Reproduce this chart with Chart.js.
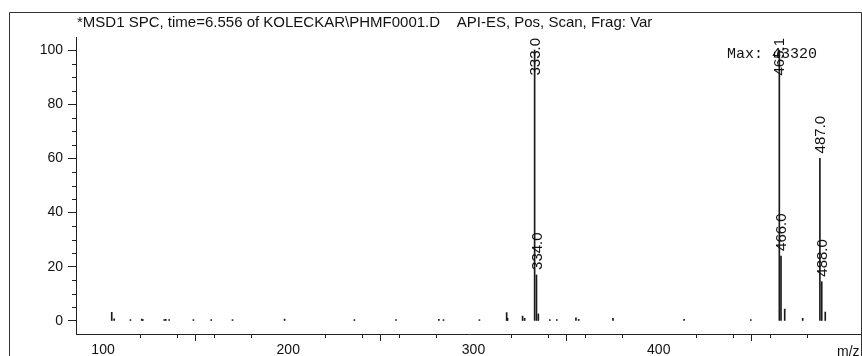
<!DOCTYPE html>
<html>
<head>
<meta charset="utf-8">
<script src="https://cdn.jsdelivr.net/npm/chart.js@4/dist/chart.umd.min.js"></script>
<style>
  html, body { margin: 0; padding: 0; background: #fff; }
  #wrap { width: 862px; height: 356px; }
</style>
</head>
<body>
<div id="wrap"><canvas id="graph"></canvas></div>
<script>
const TITLE = '*MSD1 SPC, time=6.556 of KOLECKAR\\PHMF0001.D    API-ES, Pos, Scan, Frag: Var'
const MAX_TEXT = 'Max: 43320'

// m/z values and relative abundance (%)
const mz = [104.7, 106.0, 114.8, 120.9, 121.5, 133.0, 133.9, 135.7, 148.8, 158.4, 169.9, 198.0,
  235.7, 258.2, 281.3, 283.8, 303.2, 317.9, 318.4, 326.5, 327.6, 333.0, 334.0, 335.0, 341.2, 345.0,
  355.3, 356.8, 375.3, 413.7, 449.7, 465.1, 466.0, 468.0, 477.7, 487.0, 488.0, 489.9]
const abundance = [3.2, 0.8, 0.5, 0.7, 0.5, 0.5, 0.6, 0.5, 0.5, 0.5, 0.5, 0.7,
  0.5, 0.5, 0.6, 0.5, 0.5, 3.1, 1.0, 1.8, 1.0, 100, 17, 2.6, 0.5, 0.5,
  1.2, 0.6, 1.0, 0.6, 0.5, 100, 24, 4.4, 1.0, 60, 14.5, 3.3]

// peaks that carry a m/z label
const labelledMz = [333.0, 334.0, 465.1, 466.0, 487.0, 488.0]

const yMajor = [0, 20, 40, 60, 80, 100]
const xMajor = [100, 200, 300, 400, 500]

const FONT = 'Liberation Sans, Arial, sans-serif'

const decorPlugin = {
  id: 'decor',
  beforeDraw(chart) {
    const c = chart.ctx
    c.save()
    c.strokeStyle = '#333'
    c.lineWidth = 1
    c.beginPath()
    c.moveTo(9.5, 356)
    c.lineTo(9.5, 12.5)
    c.lineTo(861.5, 12.5)
    c.lineTo(861.5, 356)
    c.stroke()
    c.restore()
  },
  afterDraw(chart) {
    const c = chart.ctx
    const xs = chart.scales.x
    const ys = chart.scales.y
    const area = chart.chartArea
    c.save()
    // minor ticks
    c.strokeStyle = '#222'
    c.lineWidth = 1
    c.beginPath()
    for (let v = 0; v <= 100; v += 5) {
      if (v % 20 === 0) continue
      const py = Math.round(ys.getPixelForValue(v)) + 0.5
      c.moveTo(area.left - 4, py)
      c.lineTo(area.left, py)
    }
    for (let v = 100; v <= 500; v += 20) {
      if (v % 100 === 0) continue
      const px = Math.round(xs.getPixelForValue(v)) + 0.5
      c.moveTo(px, area.bottom)
      c.lineTo(px, area.bottom + 4)
    }
    c.stroke()

    c.fillStyle = '#111'
    c.font = '15px ' + FONT
    c.textBaseline = 'alphabetic'
    c.textAlign = 'left'
    c.fillText(TITLE, 77, 27)
    c.font = '14px ' + FONT
    c.fillText('m/z', 837, 356)

    c.font = '15px "Liberation Mono", "Courier New", monospace'
    c.fillText(MAX_TEXT, 727, 58)

    // peak labels, rotated
    c.font = '15px ' + FONT
    labelledMz.forEach((m) => {
      const i = mz.indexOf(m)
      const px = xs.getPixelForValue(m)
      const top = ys.getPixelForValue(abundance[i])
      const text = m.toFixed(1)
      const w = c.measureText(text).width
      const bottom = Math.max(top - 5, area.top + w + 1)
      c.save()
      c.translate(px + 1, bottom)
      c.rotate(-Math.PI / 2)
      c.textAlign = 'left'
      c.textBaseline = 'middle'
      c.fillText(text, 0, 0)
      c.restore()
    })
    c.restore()
  },
}

const ctx = document.getElementById('graph').getContext('2d')

new Chart(ctx, {
  type: 'bar',
  data: {
    datasets: [
      {
        data: mz.map((m, i) => ({ x: m, y: abundance[i] })),
        backgroundColor: '#1a1a1a',
        borderWidth: 0,
        barThickness: 1,
      },
    ],
  },
  options: {
    responsive: true,
    maintainAspectRatio: false,
    animation: false,
    events: [],
    layout: { padding: { top: 37, right: 0, left: 0, bottom: 0 } },
    plugins: {
      legend: { display: false },
      tooltip: { enabled: false },
    },
    scales: {
      x: {
        type: 'linear',
        min: 85.41,
        max: 509.73,
        offset: false,
        afterBuildTicks: (s) => { s.ticks = xMajor.map((v) => ({ value: v })) },
        afterFit: (s) => { s.height = 22 },
        border: { color: '#222', width: 1 },
        grid: { drawOnChartArea: false, tickLength: 7, tickColor: '#222' },
        ticks: {
          color: '#111',
          font: { family: FONT, size: 14 },
          padding: 1,
          maxRotation: 0,
          autoSkip: false,
          callback: (v) => (v === 500 ? '' : v),
        },
      },
      y: {
        min: -4.8,
        max: 104.8,
        afterBuildTicks: (s) => { s.ticks = yMajor.map((v) => ({ value: v })) },
        afterFit: (s) => { s.width = 76 },
        border: { color: '#222', width: 1 },
        grid: { drawOnChartArea: false, tickLength: 8, tickColor: '#222' },
        ticks: {
          color: '#111',
          font: { family: FONT, size: 14 },
          padding: 5,
          autoSkip: false,
        },
      },
    },
  },
  plugins: [decorPlugin],
})
</script>
</body>
</html>
